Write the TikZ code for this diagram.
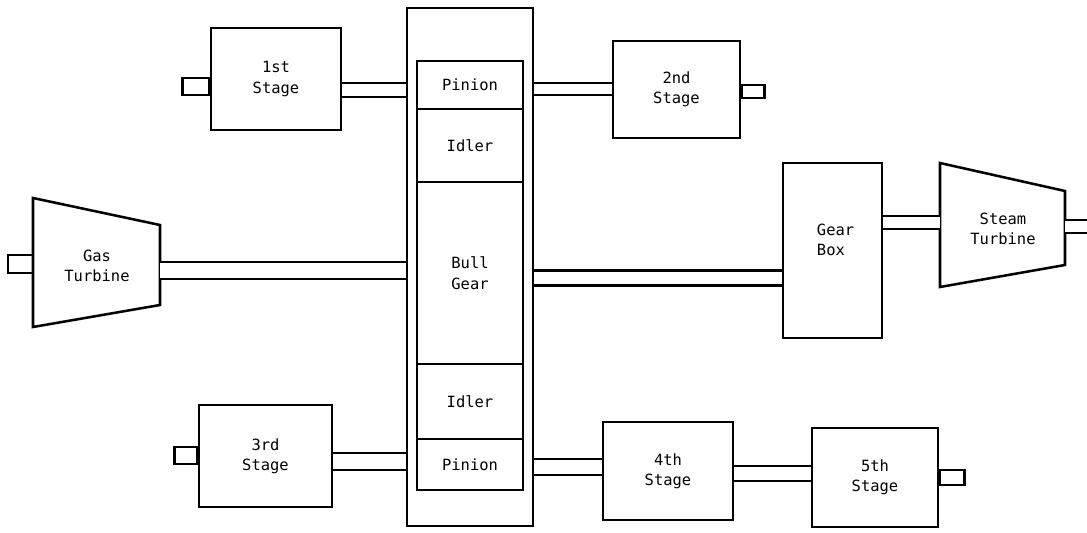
\documentclass[tikz,border=0pt]{standalone}
\usepackage{fontspec}
\newfontfamily\typefont{DejaVu Sans Mono}
\newcommand{\partfont}{\typefont\fontsize{11}{14.5}\selectfont}
\tikzset{
  part/.style 2 args={draw, align=center, font=\partfont,
    minimum width=#1*0.025cm, minimum height=#2*0.025cm},
  txt/.style={align=center, font=\partfont},
  shaft/.style={double, double distance=#1},
}
\begin{document}
\begin{tikzpicture}[x=0.025cm, y=-0.025cm, line width=1.8pt]
  \useasboundingbox (0,0) rectangle (1087,533);
  \node[part={126}{518}] (frame) at (470,267) {};
  \node[part={106}{48}] (pin1) at (470,85) {Pinion};
  \node[part={106}{73}] (idl1) at (470,145.5) {Idler};
  \node[part={106}{182}] (bull) at (470,273) {Bull\\Gear};
  \node[part={106}{75}] (idl2) at (470,401.5) {Idler};
  \node[part={106}{51}] (pin2) at (470,464.5) {Pinion};
  \node[part={130}{102}] (st1) at (276,79) {1st\\Stage};
  \node[part={127}{97}] (st2) at (676.5,89.5) {2nd\\Stage};
  \node[part={133}{102}] (st3) at (265.5,456) {3rd\\Stage};
  \node[part={130}{98}] (st4) at (668,471) {4th\\Stage};
  \node[part={126}{99}] (st5) at (875,477.5) {5th\\Stage};
  \node[part={99}{175}] (gbox) at (832.5,250.5) {};
  \node[txt, anchor=west, align=left] (gbtext) at (811,240) {Gear\\Box};
  \draw (33,198) -- (160,225) -- (160,305) -- (33,327) -- cycle;
  \node[txt] (gas) at (97,266) {Gas\\Turbine};
  \coordinate (gasL) at (33,264);
  \coordinate (gasR) at (160,270.5);
  \draw (940,163) -- (1065,191) -- (1065,265) -- (940,287) -- cycle;
  \node[txt] (steam) at (1003,229) {Steam\\Turbine};
  \coordinate (stmL) at (940,222.5);
  \coordinate (stmR) at (1065,226.5);
  \coordinate (edgeR) at (1092,226.5);
  \draw[shaft=0.2875cm] (st1.east |- 0,90) -- (frame.west |- 0,90);
  \draw[shaft=0.2375cm] (frame.east |- 0,89) -- (st2.west |- 0,89);
  \draw[shaft=0.3625cm] (gasR) -- (frame.west |- gasR);
  \draw[shaft=0.3125cm] (frame.east |- 0,278) -- (gbox.west |- 0,278);
  \draw[shaft=0.2625cm] (gbox.east |- stmL) -- (stmL);
  \draw[shaft=0.2625cm] (stmR) -- (edgeR);
  \draw[shaft=0.3625cm] (st3.east |- 0,461.5) -- (frame.west |- 0,461.5);
  \draw[shaft=0.3375cm] (frame.east |- 0,467) -- (st4.west |- 0,467);
  \draw[shaft=0.3125cm] (st4.east |- 0,473.5) -- (st5.west |- 0,473.5);
  \draw (st1.west |- 0,78) rectangle ++(-27,17);
  \draw (gasL |- 0,255) rectangle ++(-25,18);
  \draw (st2.east |- 0,85) rectangle ++(23,13);
  \draw (st3.west |- 0,447) rectangle ++(-23,17);
  \draw (st5.east |- 0,470) rectangle ++(25,15);
\end{tikzpicture}
\end{document}
